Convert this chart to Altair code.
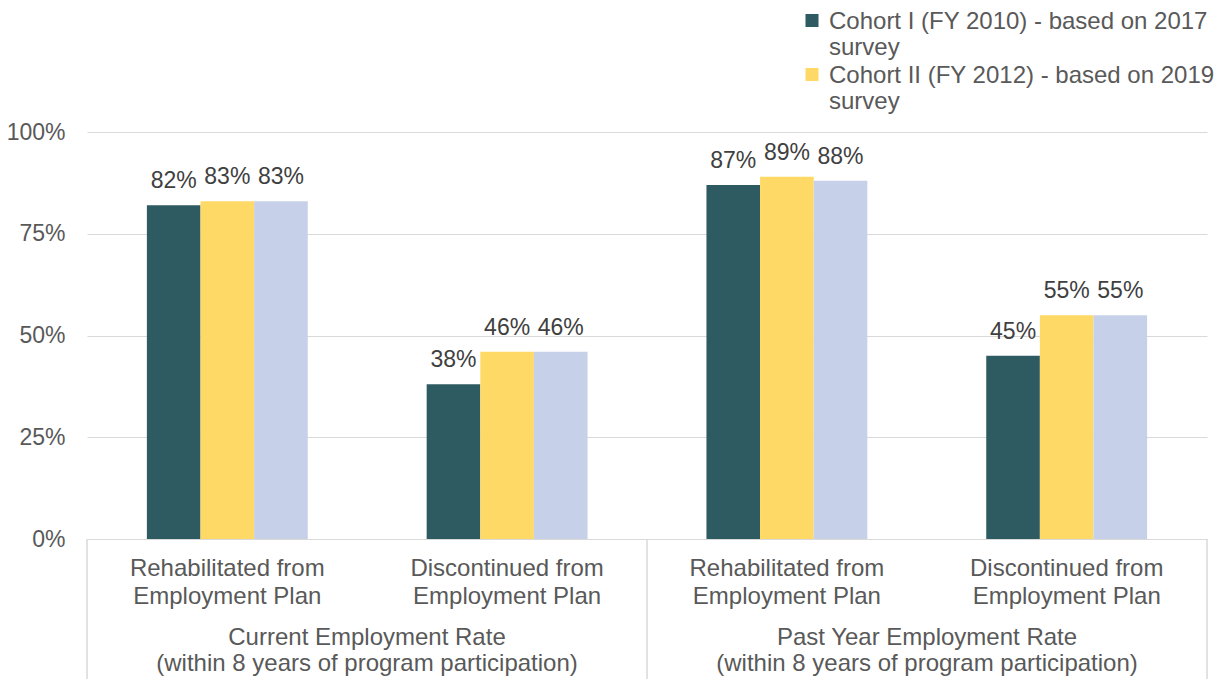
import altair as alt
import pandas as pd

# ---- data ----
keys = ["c1", "c2", "c3", "c4"]
sub_labels = [
    "Rehabilitated from\nEmployment Plan",
    "Discontinued from\nEmployment Plan",
    "Rehabilitated from\nEmployment Plan",
    "Discontinued from\nEmployment Plan",
]
group_labels = [
    "Current Employment Rate\n(within 8 years of program participation)",
    "Past Year Employment Rate\n(within 8 years of program participation)",
]
group_pos = [1, 3]
separator_pos = [0, 2, 4]

series = [
    "Cohort I (FY 2010) - based on 2017 survey",
    "Cohort II (FY 2012) - based on 2019 survey",
    "Series 3",
]
cohort1 = [0.82, 0.38, 0.87, 0.45]
cohort2 = [0.83, 0.46, 0.89, 0.55]
series3 = [0.83, 0.46, 0.88, 0.55]
colors = ["#2E5B62", "#FFD966", "#C6D0E8"]

rows = []
for s, vals in zip(series, [cohort1, cohort2, series3]):
    for k, v in zip(keys, vals):
        rows.append({"key": k, "series": s, "value": v})
df = pd.DataFrame(rows)
df_sub = pd.DataFrame({"key": keys, "label": sub_labels})
df_grp = pd.DataFrame({"pos": group_pos, "label": group_labels})
df_sep = pd.DataFrame({"pos": separator_pos})

W, H = 1120, 407
FONT = "Liberation Sans"
GRID = "#D9D9D9"

xscale = alt.Scale(domain=keys, paddingInner=0.425, paddingOuter=0.214)
x_enc = alt.X("key:N", scale=xscale, axis=None)
xoff = alt.XOffset("series:N", sort=series, scale=alt.Scale(paddingInner=0, paddingOuter=0))

bars = alt.Chart(df).mark_bar().encode(
    x=x_enc,
    xOffset=xoff,
    y=alt.Y(
        "value:Q",
        scale=alt.Scale(domain=[0, 1], nice=False),
        axis=alt.Axis(
            values=[0, 0.25, 0.5, 0.75, 1],
            format=".0%",
            grid=True,
            gridColor=GRID,
            gridWidth=1,
            domain=False,
            ticks=False,
            tickSize=0,
            labelFontSize=23,
            labelColor="#595959",
            labelPadding=22,
            title=None,
        ),
    ),
    color=alt.Color(
        "series:N",
        sort=series,
        scale=alt.Scale(domain=series, range=colors),
        legend=alt.Legend(
            title=None,
            values=series[:2],
            orient="none",
            legendX=713,
            legendY=-115,
            symbolType="M-1,-2.31H1V-0.31H-1Z",
            symbolSize=169,
            symbolStrokeWidth=0,
            labelFontSize=24,
            labelColor="#595959",
            labelLimit=600,
            labelOffset=5,
            labelBaseline="alphabetic",
            rowPadding=4,
            padding=0,
            labelExpr="[slice(datum.label, 0, lastindexof(datum.label, ' ')), slice(datum.label, lastindexof(datum.label, ' ') + 1)]",
        ),
    ),
)

values = alt.Chart(df).mark_text(
    baseline="alphabetic", dy=-17, fontSize=23, color="#404040", font=FONT
).encode(
    x=x_enc,
    xOffset=xoff,
    y="value:Q",
    text=alt.Text("value:Q", format=".0%"),
)

subs = alt.Chart(df_sub).mark_text(
    baseline="alphabetic", fontSize=24, color="#595959", lineBreak="\n", lineHeight=28, font=FONT
).encode(
    x=x_enc,
    y=alt.value(444),
    text="label:N",
)

inner = alt.layer(bars, values, subs)

qx = alt.Scale(domain=[0, 4], nice=False, zero=False)

seps = alt.Chart(df_sep).mark_rule(color=GRID, strokeWidth=1.5).encode(
    x=alt.X("pos:Q", scale=qx, axis=None),
    y=alt.value(H),
    y2=alt.value(H + 140),
)

groups = alt.Chart(df_grp).mark_text(
    baseline="alphabetic", fontSize=24, color="#595959", lineBreak="\n", lineHeight=26, font=FONT
).encode(
    x=alt.X("pos:Q", scale=qx, axis=None),
    y=alt.value(513),
    text="label:N",
)

chart = (
    alt.layer(inner, seps, groups)
    .resolve_scale(x="independent")
    .properties(
        width=W,
        height=H,
        autosize=alt.AutoSizeParams(type="none"),
        padding={"left": 87, "top": 132, "right": 7, "bottom": 140},
    )
    .configure(font=FONT)
    .configure_view(stroke=None)
)

chart.save("out.html", embed_options={"renderer": "svg", "actions": False})
